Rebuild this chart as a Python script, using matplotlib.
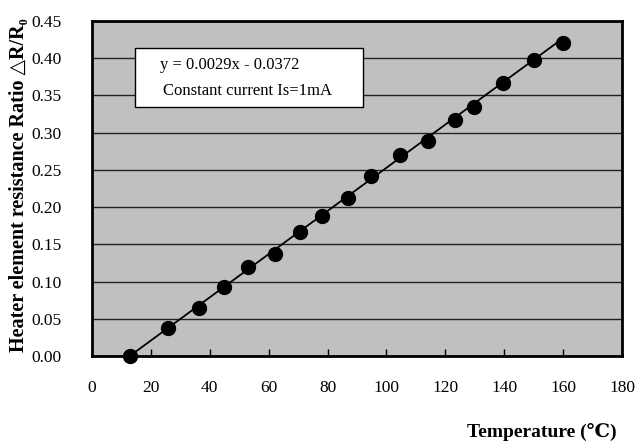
import matplotlib
matplotlib.use('agg')
import matplotlib.pyplot as plt
from matplotlib.patches import Rectangle
import numpy as np

temperature = [13, 25.7, 36.3, 44.9, 53, 62, 70.5, 78, 87, 94.8, 104.7, 114, 123.3, 129.7, 139.6, 150.2, 160]
ratio = [0.000, 0.037, 0.065, 0.092, 0.120, 0.137, 0.167, 0.188, 0.212, 0.242, 0.270, 0.289, 0.317, 0.334, 0.367, 0.397, 0.421]
slope, intercept = 0.0029, -0.0372
x_ticks = list(range(0, 181, 20))
y_ticks = [0.00, 0.05, 0.10, 0.15, 0.20, 0.25, 0.30, 0.35, 0.40, 0.45]

serif = ['Liberation Serif', 'DejaVu Serif', 'DejaVu Sans']
plt.rcParams['font.family'] = serif

fig = plt.figure(figsize=(6.36, 4.45), dpi=100)
ax = fig.add_axes([0.1447, 0.2, 0.8333, 0.753])
ax.set_facecolor('#c0c0c0')

x_fit = np.array([min(temperature), max(temperature)])
ax.plot(x_fit, slope * x_fit + intercept, color='black', lw=1.3, zorder=3)
ax.plot(temperature, ratio, 'o', color='black', ms=10, zorder=4, clip_on=False)

ax.set_xlim(0, 180)
ax.set_ylim(0, 0.45)
ax.set_xticks(x_ticks)
ax.set_yticks(y_ticks)
ax.set_yticklabels(['%.2f' % v for v in y_ticks])
ax.yaxis.grid(True, color='#222222', lw=1)
ax.set_axisbelow(True)
ax.tick_params(axis='x', direction='in', length=5, width=1, pad=17, labelsize=12.5)
ax.tick_params(axis='y', length=0, pad=22, labelsize=12.5)
for s in ax.spines.values():
    s.set_linewidth(2)

ax.add_patch(Rectangle((0.081, 0.743), 0.43, 0.176, transform=ax.transAxes,
                       facecolor='white', edgecolor='black', lw=1, zorder=5))
ax.text(0.128, 0.868, 'y = 0.0029x - 0.0372', transform=ax.transAxes,
        fontsize=12, va='center', zorder=6)
ax.text(0.133, 0.792, 'Constant current Is=1mA', transform=ax.transAxes,
        fontsize=12, va='center', zorder=6)

fig.text(0.03, 0.585, 'Heater element resistance Ratio \u25b3R/R\u2080', rotation=90,
         fontsize=14.5, fontweight='bold', ha='center', va='center', family=serif)
fig.text(0.97, 0.03, 'Temperature (\u2103)', fontsize=14, fontweight='bold',
         ha='right', va='center', family=serif)

plt.savefig('out.png', dpi=100)
